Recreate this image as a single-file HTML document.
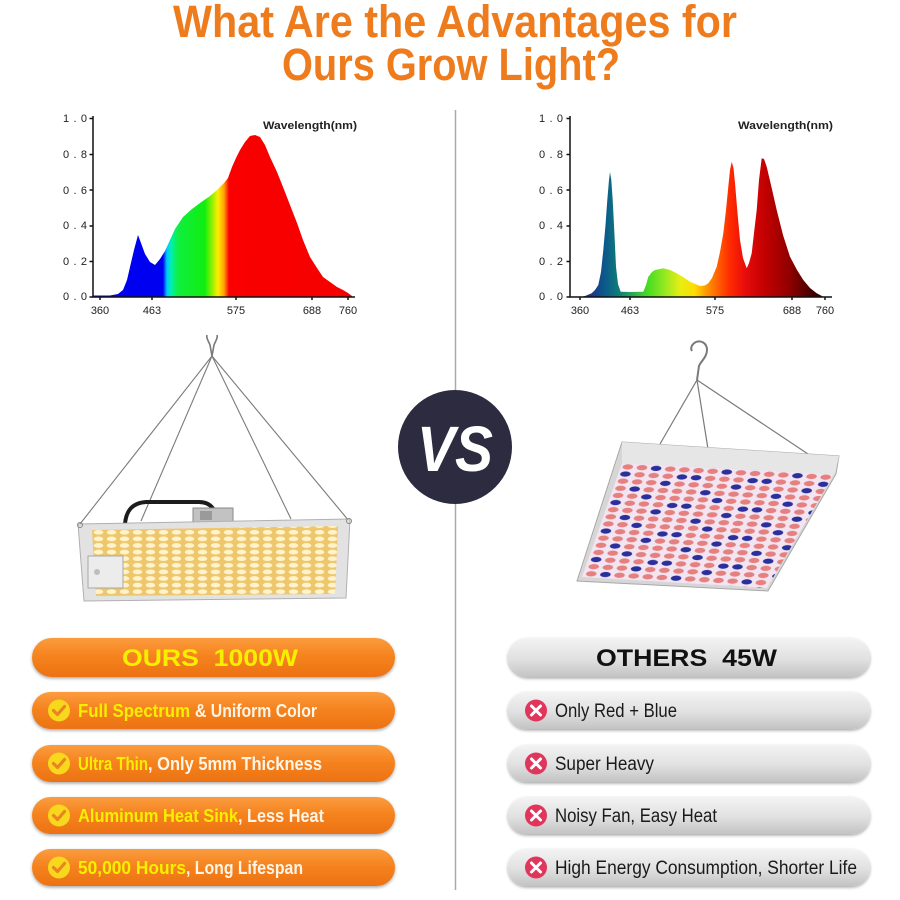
<!DOCTYPE html>
<html><head><meta charset="utf-8">
<style>
html,body{margin:0;padding:0;background:#fff;}
svg{display:block;}
text{font-family:"Liberation Sans",Arial,sans-serif;}
</style></head><body>
<svg width="900" height="900" viewBox="0 0 900 900" xmlns="http://www.w3.org/2000/svg">
<defs>
  <linearGradient id="lspec" gradientUnits="userSpaceOnUse" x1="93" y1="0" x2="355" y2="0">
    <stop offset="0" stop-color="#0000f0"/>
    <stop offset="0.267" stop-color="#0000f0"/>
    <stop offset="0.282" stop-color="#00c8ff"/>
    <stop offset="0.298" stop-color="#00f0b0"/>
    <stop offset="0.324" stop-color="#10ee40"/>
    <stop offset="0.427" stop-color="#10ee10"/>
    <stop offset="0.454" stop-color="#90f000"/>
    <stop offset="0.477" stop-color="#ffee00"/>
    <stop offset="0.500" stop-color="#ffa000"/>
    <stop offset="0.519" stop-color="#fa0000"/>
    <stop offset="1" stop-color="#f50000"/>
  </linearGradient>
  <linearGradient id="rspec" gradientUnits="userSpaceOnUse" x1="580" y1="0" x2="825" y2="0">
    <stop offset="0.041" stop-color="#1c3382"/>
    <stop offset="0.102" stop-color="#0b5a8c"/>
    <stop offset="0.155" stop-color="#0d7b78"/>
    <stop offset="0.224" stop-color="#30b050"/>
    <stop offset="0.278" stop-color="#48dc22"/>
    <stop offset="0.347" stop-color="#96e820"/>
    <stop offset="0.408" stop-color="#e6ee14"/>
    <stop offset="0.469" stop-color="#ffdc00"/>
    <stop offset="0.510" stop-color="#ffa000"/>
    <stop offset="0.563" stop-color="#ff6000"/>
    <stop offset="0.612" stop-color="#ff2a00"/>
    <stop offset="0.673" stop-color="#e80c0c"/>
    <stop offset="0.755" stop-color="#c20000"/>
    <stop offset="0.857" stop-color="#900000"/>
    <stop offset="0.939" stop-color="#4a0000"/>
    <stop offset="1" stop-color="#200000"/>
  </linearGradient>
  <linearGradient id="og" x1="0" y1="0" x2="0" y2="1">
    <stop offset="0" stop-color="#fb9c3e"/>
    <stop offset="0.45" stop-color="#f5831f"/>
    <stop offset="1" stop-color="#ec7212"/>
  </linearGradient>
  <linearGradient id="gg" x1="0" y1="0" x2="0" y2="1">
    <stop offset="0" stop-color="#f3f3f3"/>
    <stop offset="0.55" stop-color="#e0e0e0"/>
    <stop offset="1" stop-color="#c3c3c3"/>
  </linearGradient>
  <filter id="sh" x="-5%" y="-20%" width="110%" height="150%">
    <feGaussianBlur in="SourceAlpha" stdDeviation="1.5"/>
    <feOffset dy="1.5" result="b"/>
    <feComponentTransfer><feFuncA type="linear" slope="0.35"/></feComponentTransfer>
    <feMerge><feMergeNode/><feMergeNode in="SourceGraphic"/></feMerge>
  </filter>
  <pattern id="ledw" patternUnits="userSpaceOnUse" x="92" y="529" width="13" height="6.6">
    <rect width="13" height="6.6" fill="#eec66c"/>
    <ellipse cx="6.5" cy="3.3" rx="4.8" ry="2.4" fill="#fff3cc"/>
  </pattern>
  <pattern id="ledr" patternUnits="userSpaceOnUse" width="50" height="40" patternTransform="matrix(1.4133 0.0733 -0.24375 0.7125 622 463)">
    <rect width="50" height="40" fill="#f2e4f0"/>
    <g fill="#e5807f">
      <circle cx="5" cy="5" r="3.7"/><circle cx="15" cy="5" r="3.7"/><circle cx="35" cy="5" r="3.7"/><circle cx="45" cy="5" r="3.7"/>
      <circle cx="15" cy="15" r="3.7"/><circle cx="25" cy="15" r="3.7"/><circle cx="35" cy="15" r="3.7"/>
      <circle cx="5" cy="25" r="3.7"/><circle cx="15" cy="25" r="3.7"/><circle cx="25" cy="25" r="3.7"/><circle cx="45" cy="25" r="3.7"/>
      <circle cx="5" cy="35" r="3.7"/><circle cx="25" cy="35" r="3.7"/><circle cx="35" cy="35" r="3.7"/><circle cx="45" cy="35" r="3.7"/>
    </g>
    <g fill="#2a2f9c">
      <circle cx="25" cy="5" r="3.7"/><circle cx="5" cy="15" r="3.7"/><circle cx="45" cy="15" r="3.7"/>
      <circle cx="35" cy="25" r="3.7"/><circle cx="15" cy="35" r="3.7"/>
    </g>
  </pattern>
</defs>

<rect width="900" height="900" fill="#ffffff"/>

<!-- Title -->
<text x="173" y="37" font-size="45" font-weight="bold" fill="#ee7b1c" textLength="564" lengthAdjust="spacingAndGlyphs">What Are the Advantages for</text>
<text x="282" y="80" font-size="45" font-weight="bold" fill="#ee7b1c" textLength="338" lengthAdjust="spacingAndGlyphs">Ours Grow Light?</text>

<!-- Divider -->
<line x1="455.5" y1="110" x2="455.5" y2="392" stroke="#aaaaaa" stroke-width="1.5"/>
<line x1="455.5" y1="503" x2="455.5" y2="890" stroke="#aaaaaa" stroke-width="1.5"/>

<!-- LEFT CHART -->
<path d="M93,297 L93,295.5 L110,295.5 L118,294 L123,290 L127,280 L130,267 L134,250 L138,235 L141,243 L145,254 L150,262 L155,265 L160,259 L165,251 L170,240 L175,229 L183,217 L192,209 L200,203 L210,196 L217,190 L224,183 L228,178 L232,167 L236,158 L240,150 L245,142 L250,136 L255,135 L260,137 L265,145 L270,157 L277,172 L283,187 L290,205 L297,223 L303,240 L310,257 L317,268 L323,277 L330,282 L337,287 L343,290 L348,293 L352,296 L352,297 Z" fill="url(#lspec)"/>
<g stroke="#111" stroke-width="1.5" fill="none">
  <line x1="93" y1="116" x2="93" y2="297.5"/>
  <line x1="92.5" y1="297" x2="355" y2="297"/>
  <path d="M89.5,118.5 H93 M89.5,154.5 H93 M89.5,190 H93 M89.5,226 H93 M89.5,261.5 H93 M89.5,297 H93"/>
  <path d="M100,297 V300 M152,297 V300 M236,297 V300 M312,297 V300 M348,297 V300"/>
</g>
<g font-family="Liberation Mono, monospace" font-size="11" fill="#222" text-anchor="end">
  <text x="87" y="122" textLength="24">1.0</text>
  <text x="87" y="158" textLength="24">0.8</text>
  <text x="87" y="194" textLength="24">0.6</text>
  <text x="87" y="229" textLength="24">0.4</text>
  <text x="87" y="265" textLength="24">0.2</text>
  <text x="87" y="300" textLength="24">0.0</text>
</g>
<g font-size="11" fill="#222" text-anchor="middle">
  <text x="100" y="314">360</text>
  <text x="152" y="314">463</text>
  <text x="236" y="314">575</text>
  <text x="312" y="314">688</text>
  <text x="348" y="314">760</text>
</g>
<text x="263" y="129" font-size="11" font-weight="bold" fill="#222" textLength="94" lengthAdjust="spacingAndGlyphs">Wavelength(nm)</text>

<!-- RIGHT CHART -->
<path d="M580,297 L585,296 L591.7,293.3 L595,290 L598.3,285 L601,272 L603.3,250 L605.5,225 L607.3,200 L609,180 L610,172 L611.3,180 L612.7,200 L614.5,235 L616,266.7 L618,284 L620.7,291.7 L630,292 L643.3,291.7 L646,285 L648.3,276.7 L652,272 L655,270 L663.3,268.3 L670,270 L676.7,273.3 L683,277 L690,281.7 L700,286 L705,285.5 L708.3,283.3 L712,278 L716.7,266.7 L720,252 L723.3,233.3 L726,210 L728.3,186.7 L730,170 L731.7,161.7 L733.5,168 L735,183.3 L737.5,213 L740,240 L743,258 L746.7,268.3 L749,263 L751.7,253.3 L754,233 L756.7,210 L759,180 L761.7,158.3 L764,159 L766.7,166.7 L771,185 L776.7,210 L783,235 L790,256.7 L797,270 L803.3,280 L810,288 L816.7,293.3 L823.3,296.7 L823.3,297 Z" fill="url(#rspec)"/>
<g stroke="#111" stroke-width="1.5" fill="none">
  <line x1="570" y1="116" x2="570" y2="297.5"/>
  <line x1="569.5" y1="297" x2="832" y2="297"/>
  <path d="M566.5,118.5 H570 M566.5,154.5 H570 M566.5,190 H570 M566.5,226 H570 M566.5,261.5 H570 M566.5,297 H570"/>
  <path d="M580,297 V300 M630,297 V300 M715,297 V300 M792,297 V300 M825,297 V300"/>
</g>
<g font-family="Liberation Mono, monospace" font-size="11" fill="#222" text-anchor="end">
  <text x="563" y="122" textLength="24">1.0</text>
  <text x="563" y="158" textLength="24">0.8</text>
  <text x="563" y="194" textLength="24">0.6</text>
  <text x="563" y="229" textLength="24">0.4</text>
  <text x="563" y="265" textLength="24">0.2</text>
  <text x="563" y="300" textLength="24">0.0</text>
</g>
<g font-size="11" fill="#222" text-anchor="middle">
  <text x="580" y="314">360</text>
  <text x="630" y="314">463</text>
  <text x="715" y="314">575</text>
  <text x="792" y="314">688</text>
  <text x="825" y="314">760</text>
</g>
<text x="738" y="129" font-size="11" font-weight="bold" fill="#222" textLength="95" lengthAdjust="spacingAndGlyphs">Wavelength(nm)</text>

<!-- LEFT LAMP -->
<g stroke="#7a7a7a" stroke-width="1.1" fill="none">
  <line x1="212" y1="356" x2="80" y2="524"/>
  <line x1="212" y1="356" x2="141" y2="521"/>
  <line x1="212" y1="356" x2="291" y2="519"/>
  <line x1="212" y1="356" x2="349" y2="521"/>
  <path d="M212,356 L210,345 C208,340 206,338 207,335 M212,356 L214,345 C216,340 218,338 217,335" stroke-width="1.6"/>
</g>
<path d="M125,524 C126,512 131,503 146,502 L199,502 C211,502 216,510 217,521" stroke="#1c1c1c" stroke-width="4" fill="none"/>
<rect x="193" y="508" width="40" height="15" fill="#c2c2c2" stroke="#8a8a8a"/>
<rect x="200" y="511" width="12" height="9" fill="#9a9a9a"/>
<polygon points="78,524 350,519 346,598 84,601" fill="#e2e2e2" stroke="#b0b0b0" stroke-width="1"/>
<polygon points="92,530 338,526 335,594 96,596" fill="url(#ledw)"/>
<rect x="88" y="556" width="35" height="32" fill="#ececec" stroke="#a8a8a8"/>
<circle cx="97" cy="572" r="3" fill="#bdbdbd"/>
<circle cx="80" cy="525" r="2.5" fill="none" stroke="#888"/>
<circle cx="349" cy="521" r="2.5" fill="none" stroke="#888"/>

<!-- VS -->
<circle cx="455" cy="447" r="57" fill="#2c2b3f"/>
<text x="455" y="471" font-size="64" font-weight="bold" font-style="italic" fill="#ffffff" text-anchor="middle" textLength="76" lengthAdjust="spacingAndGlyphs">VS</text>

<!-- RIGHT LAMP -->
<g stroke="#7a7a7a" stroke-width="1.2" fill="none">
  <line x1="697" y1="380" x2="660" y2="444"/>
  <line x1="697" y1="380" x2="708" y2="449"/>
  <line x1="697" y1="380" x2="808" y2="454"/>
  <path d="M697,380 L699,366 C701,361 707,357 707,350 C707,343 701,340 696,342 C692,344 690,348 692,351" stroke-width="2"/>
</g>
<polygon points="622,442 839,456 836,474 768,591 577,581" fill="#d6d6d6" stroke="#a8a8a8" stroke-width="1"/>
<polygon points="622,442 839,456 835,474 622,463" fill="#e6e6e6"/>
<polygon points="622,463 834,474 767,588 582,577" fill="url(#ledr)"/>

<!-- LEFT BUTTONS -->
<g filter="url(#sh)">
  <rect x="32" y="638" width="363" height="39" rx="19.5" fill="url(#og)"/>
  <rect x="32" y="692" width="363" height="37" rx="18.5" fill="url(#og)"/>
  <rect x="32" y="745" width="363" height="37" rx="18.5" fill="url(#og)"/>
  <rect x="32" y="797" width="363" height="37" rx="18.5" fill="url(#og)"/>
  <rect x="32" y="849" width="363" height="37" rx="18.5" fill="url(#og)"/>
</g>
<text x="122" y="666" font-size="24" font-weight="bold" fill="#f6f000" textLength="176" lengthAdjust="spacingAndGlyphs">OURS&#160; 1000W</text>
<g>
  <circle cx="59" cy="710.5" r="11" fill="#f8d81c"/>
  <circle cx="59" cy="763.5" r="11" fill="#f8d81c"/>
  <circle cx="59" cy="815.5" r="11" fill="#f8d81c"/>
  <circle cx="59" cy="867.5" r="11" fill="#f8d81c"/>
</g>
<g stroke="#ea8420" stroke-width="3.2" fill="none" stroke-linecap="round" stroke-linejoin="round">
  <path d="M53.5,710.5 L57.5,714.5 L64.5,706.5"/>
  <path d="M53.5,763.5 L57.5,767.5 L64.5,759.5"/>
  <path d="M53.5,815.5 L57.5,819.5 L64.5,811.5"/>
  <path d="M53.5,867.5 L57.5,871.5 L64.5,863.5"/>
</g>
<g font-size="18" font-weight="bold">
  <text x="78" y="717" fill="#f6f000" textLength="112" lengthAdjust="spacingAndGlyphs">Full Spectrum</text>
  <text x="195" y="717" fill="#fff5e6" textLength="122" lengthAdjust="spacingAndGlyphs">&amp; Uniform Color</text>
  <text x="78" y="770" fill="#f6f000" textLength="70" lengthAdjust="spacingAndGlyphs">Ultra Thin</text>
  <text x="148" y="770" fill="#fff5e6" textLength="174" lengthAdjust="spacingAndGlyphs">, Only 5mm Thickness</text>
  <text x="78" y="822" fill="#f6f000" textLength="160" lengthAdjust="spacingAndGlyphs">Aluminum Heat Sink</text>
  <text x="238" y="822" fill="#fff5e6" textLength="86" lengthAdjust="spacingAndGlyphs">, Less Heat</text>
  <text x="78" y="874" fill="#f6f000" textLength="108" lengthAdjust="spacingAndGlyphs">50,000 Hours</text>
  <text x="186" y="874" fill="#fff5e6" textLength="117" lengthAdjust="spacingAndGlyphs">, Long Lifespan</text>
</g>

<!-- RIGHT BUTTONS -->
<g filter="url(#sh)">
  <rect x="508" y="638" width="362" height="39" rx="19.5" fill="url(#gg)"/>
  <rect x="508" y="692" width="362" height="37" rx="18.5" fill="url(#gg)"/>
  <rect x="508" y="745" width="362" height="37" rx="18.5" fill="url(#gg)"/>
  <rect x="508" y="797" width="362" height="37" rx="18.5" fill="url(#gg)"/>
  <rect x="508" y="849" width="362" height="37" rx="18.5" fill="url(#gg)"/>
</g>
<text x="596" y="666" font-size="24" font-weight="bold" fill="#111111" textLength="181" lengthAdjust="spacingAndGlyphs">OTHERS&#160; 45W</text>
<g fill="#e1365b">
  <circle cx="536" cy="710.5" r="11"/>
  <circle cx="536" cy="763.5" r="11"/>
  <circle cx="536" cy="815.5" r="11"/>
  <circle cx="536" cy="867.5" r="11"/>
</g>
<g stroke="#ffffff" stroke-width="3" stroke-linecap="round">
  <path d="M531.5,706 L540.5,715 M540.5,706 L531.5,715"/>
  <path d="M531.5,759 L540.5,768 M540.5,759 L531.5,768"/>
  <path d="M531.5,811 L540.5,820 M540.5,811 L531.5,820"/>
  <path d="M531.5,863 L540.5,872 M540.5,863 L531.5,872"/>
</g>
<g font-size="19" fill="#1a1a1a">
  <text x="555" y="717" textLength="122" lengthAdjust="spacingAndGlyphs">Only Red + Blue</text>
  <text x="555" y="770" textLength="99" lengthAdjust="spacingAndGlyphs">Super Heavy</text>
  <text x="555" y="822" textLength="162" lengthAdjust="spacingAndGlyphs">Noisy Fan, Easy Heat</text>
  <text x="555" y="874" textLength="302" lengthAdjust="spacingAndGlyphs">High Energy Consumption, Shorter Life</text>
</g>
</svg>
</body></html>
